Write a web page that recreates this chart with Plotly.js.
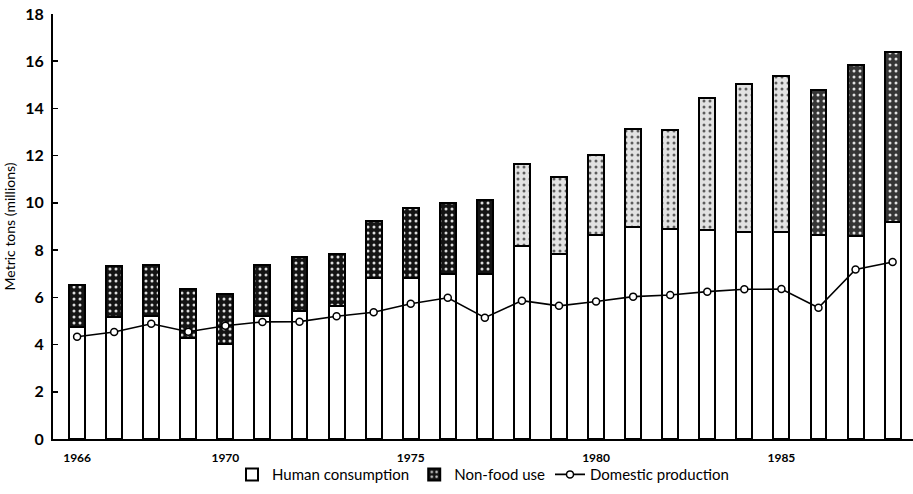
<!DOCTYPE html>
<html>
<head>
<meta charset="utf-8">
<script src="https://cdn.plot.ly/plotly-3.0.1.min.js"></script>
<style>html,body{margin:0;padding:0;background:#fff;}#chart{width:913px;height:494px;}</style>
</head>
<body>
<div id="chart"></div>
<script>
var years = [1966,1967,1968,1969,1970,1971,1972,1973,1974,1975,1976,1977,1978,1979,1980,1981,1982,1983,1984,1985,1986,1987,1988];
var humanConsumption = [4.74,5.17,5.21,4.28,4.01,5.23,5.41,5.62,6.80,6.83,6.97,6.98,8.16,7.84,8.62,8.99,8.90,8.87,8.77,8.76,8.65,8.60,9.20];
var totalUse = [6.52,7.34,7.37,6.34,6.14,7.37,7.71,7.82,9.23,9.79,9.99,10.11,11.63,11.11,12.02,13.12,13.09,14.43,15.03,15.36,14.79,15.86,16.39];
var domesticProduction = [4.33,4.53,4.88,4.54,4.80,4.96,4.97,5.20,5.37,5.73,5.98,5.14,5.86,5.64,5.82,6.03,6.10,6.24,6.34,6.35,5.56,7.18,7.50];
var tickYears = [1966,1970,1975,1980,1985];
var tickLabels = ['1966','1970','1975','1980','1985'];

var nonFood = totalUse.map(function(t,i){ return +(t - humanConsumption[i]).toFixed(2); });

// shading of the stippled segment differs across the print
function shade(y){ if (y <= 1977) return '#141414'; if (y <= 1985) return '#e2e2e2'; return '#353535'; }

var traces = [
  {
    type:'bar', name:'Human consumption', x: years, y: humanConsumption,
    marker:{color:'#ffffff', line:{color:'#000', width:2}},
    hoverinfo:'x+y'
  },
  {
    type:'bar', name:'Non-food use', x: years, y: nonFood,
    marker:{
      color: years.map(shade),
      line:{color:'#000', width:2},
      pattern:{shape:'.', fgcolor:'#ffffff', fgopacity:0.85, size:6, solidity:0.2, fillmode:'overlay'}
    },
    hoverinfo:'x+y'
  },
  {
    type:'scatter', mode:'lines+markers', name:'Domestic production', x: years, y: domesticProduction,
    line:{color:'#000', width:1.6},
    marker:{symbol:'circle', size:7, color:'#fff', line:{color:'#000', width:1.5}}
  }
];

var layout = {
  width:913, height:494,
  margin:{l:53, r:0, t:14, b:55},
  paper_bgcolor:'#fff', plot_bgcolor:'#fff',
  font:{family:'Lato, "Open Sans", sans-serif', color:'#000', size:13},
  barmode:'stack', bargap:0.57,
  showlegend:true,
  legend:{orientation:'h', x:0.5, xanchor:'center', y:-0.045, yanchor:'top', traceorder:'normal',
          font:{size:15, family:'Lato, sans-serif'}, itemwidth:30, bgcolor:'rgba(0,0,0,0)'},
  xaxis:{
    range:[1965.35, 1988.55], tickvals: tickYears, ticktext: tickLabels,
    showline:true, linecolor:'#000', linewidth:2, ticks:'', showgrid:false, zeroline:false,
    tickfont:{size:12, weight:700}, ticklabelstandoff:7
  },
  yaxis:{
    range:[0,18], dtick:2, tick0:0, showline:true, linecolor:'#000', linewidth:2,
    ticks:'inside', ticklen:5, tickcolor:'#000', tickwidth:1.5, showgrid:false, zeroline:false,
    tickfont:{size:16, weight:700}, ticklabelstandoff:4,
    title:{text:'Metric tons (millions)', font:{size:14}, standoff:6}
  }
};

Plotly.newPlot('chart', traces, layout, {displayModeBar:false, staticPlot:true});
</script>
</body>
</html>
